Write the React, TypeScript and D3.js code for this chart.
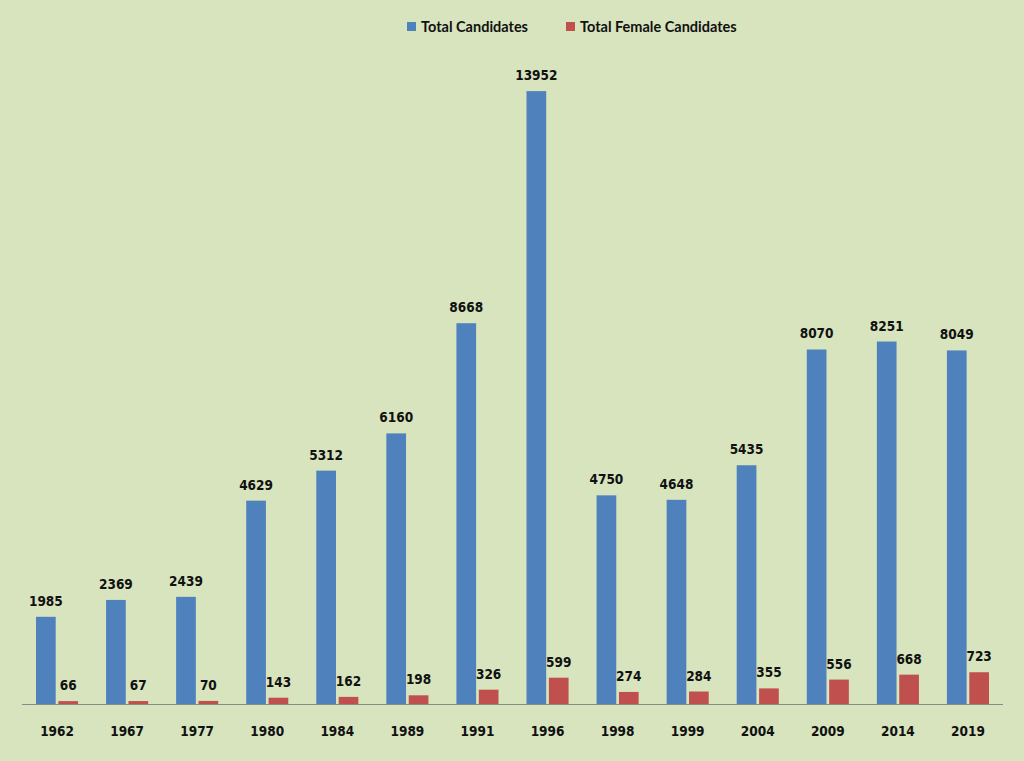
import React from "react";
import * as d3 from "d3";

const years = ["1962", "1967", "1977", "1980", "1984", "1989", "1991", "1996", "1998", "1999", "2004", "2009", "2014", "2019"];
const totalCandidates = [1985, 2369, 2439, 4629, 5312, 6160, 8668, 13952, 4750, 4648, 5435, 8070, 8251, 8049];
const femaleCandidates = [66, 67, 70, 143, 162, 198, 326, 599, 274, 284, 355, 556, 668, 723];
const seriesNames = ["Total Candidates", "Total Female Candidates"];
const seriesColors = ["#4F81BD", "#C0504D"];

const W = 1024;
const H = 761;
const left = 22;
const right = 1003;
const baseY = 704;
const FONT = "'DejaVu Sans Condensed', 'DejaVu Sans', Verdana, sans-serif";

export default function App() {
  const x = d3.scaleBand<string>().domain(years).range([left, right]).paddingInner(0).paddingOuter(0);
  const y = d3.scaleLinear().domain([0, 14000]).range([baseY, baseY - 615]);
  const inner = d3.scaleBand<number>().domain([0, 1]).range([14, x.bandwidth() - 14]).paddingInner(0.12);
  const series = [totalCandidates, femaleCandidates];

  return (
    <svg width={W} height={H} style={{ position: "absolute", left: 0, top: 0, display: "block" }}>
      <rect x={0} y={0} width={W} height={H} fill="#D7E4BD" />
      {/* legend */}
      <g>
        <rect x={407} y={22} width={9} height={9} fill={seriesColors[0]} />
        <text x={421} y={32} fontFamily="Lato, sans-serif" fontWeight="bold" fontSize={14.5} fill="#111">{seriesNames[0]}</text>
        <rect x={566} y={22} width={9} height={9} fill={seriesColors[1]} />
        <text x={580} y={32} fontFamily="Lato, sans-serif" fontWeight="bold" fontSize={14.5} fill="#111">{seriesNames[1]}</text>
      </g>
      {/* bars */}
      {years.map((yr, i) => (
        <g key={yr} transform={`translate(${x(yr)},0)`}>
          {series.map((s, k) => (
            <g key={k}>
              <rect
                x={inner(k)}
                y={y(s[i])}
                width={inner.bandwidth()}
                height={baseY - y(s[i])}
                fill={seriesColors[k]}
              />
              <text
                x={(inner(k) as number) + inner.bandwidth() / 2}
                y={y(s[i]) - 11}
                textAnchor="middle"
                fontFamily={FONT}
                fontWeight="bold"
                fontSize={13.5}
                fill="#111"
              >
                {s[i]}
              </text>
            </g>
          ))}
          <text
            x={x.bandwidth() / 2}
            y={736}
            textAnchor="middle"
            fontFamily={FONT}
            fontWeight="bold"
            fontSize={13.5}
            fill="#111"
          >
            {yr}
          </text>
        </g>
      ))}
      <line x1={left} x2={right} y1={baseY + 0.5} y2={baseY + 0.5} stroke="#8A8A8A" strokeWidth={1} />
    </svg>
  );
}
